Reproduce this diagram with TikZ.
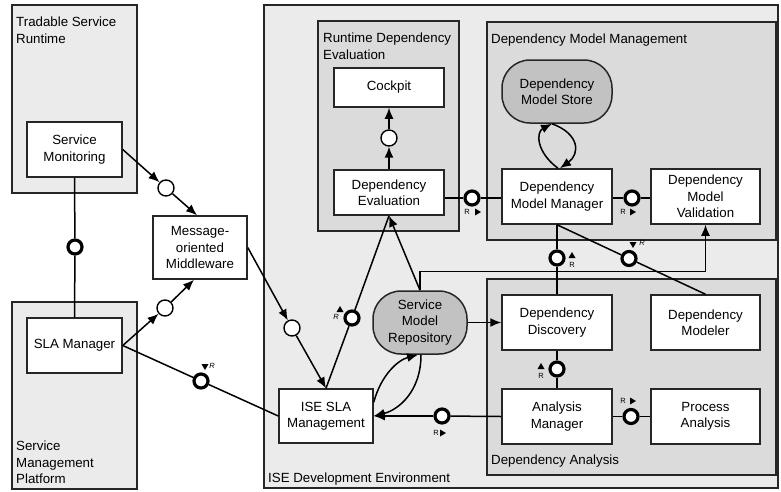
\documentclass[tikz,border=0pt]{standalone}
\usepackage{fontspec}
\setmainfont{Liberation Sans}
\usetikzlibrary{arrows.meta,positioning}
\definecolor{outerfill}{gray}{0.92}
\definecolor{innerfill}{gray}{0.86}
\definecolor{storefill}{gray}{0.76}
\definecolor{edge}{gray}{0.15}
\tikzset{
    group/.style={draw=edge, line width=1.5pt},
    grouplabel/.style={inner sep=0pt, align=left, font=\fontsize{13.3}{16.5}\selectfont},
    comp/.style={draw=edge, fill=white, line width=1.5pt, align=center,
        minimum width=110pt, minimum height=55pt, inner sep=1pt,
        font=\fontsize{13.3}{16.5}\selectfont},
    store/.style={comp, fill=storefill, rounded corners=28pt, minimum height=63pt},
    lolli/.style={circle, draw=black, fill=white, line width=3.2pt, minimum size=14pt, inner sep=0pt},
    port/.style={circle, draw=black, fill=white, line width=1.4pt, minimum size=16pt, inner sep=0pt},
    conn/.style={line width=1.5pt},
    arr/.style={conn, -{Latex[length=11pt,width=9pt]}},
    rtag/.style={inner sep=0pt, font=\fontsize{7.5}{8}\selectfont}
}

\begin{document}
\begin{tikzpicture}[x=1pt, y=-1pt]
    \useasboundingbox (0,0) rectangle (781,491);

        % Draw groups.
        \draw[group, fill=outerfill] (12,5) rectangle (137,193);
        \draw[group, fill=outerfill] (12,302) rectangle (137,489);
        \draw[group, fill=outerfill] (264,5) rectangle (778,488);
        \draw[group, fill=innerfill] (318,21) rectangle (459,231);
        \draw[group, fill=innerfill] (487,22) rectangle (776,240);
        \draw[group, fill=innerfill] (487,279) rectangle (776,475);

        \node[grouplabel, anchor=north west] (tsr) at (16,17) {Tradable Service\\Runtime};
        \node[grouplabel, anchor=south west] (smp) at (16,484) {Service\\Management\\Platform};
        \node[grouplabel, anchor=west] (ide) at (268,479) {ISE Development Environment};
        \node[grouplabel, anchor=north west] (rde) at (323,33) {Runtime Dependency\\Evaluation};
        \node[grouplabel, anchor=west] (dmm) at (491,40) {Dependency Model Management};
        \node[grouplabel, anchor=west] (dan) at (491,461) {Dependency Analysis};

        % Draw components.
        \node[comp, minimum width=95pt] (mon) at (74.5,149.5) {Service\\Monitoring};
        \node[comp, minimum width=95pt] (sla) at (74.5,345.5) {SLA Manager};
        \node[comp, minimum width=94pt, minimum height=63pt] (mom) at (200,247.5) {Message-\\oriented\\Middleware};
        \node[comp, minimum height=39pt] (cockpit) at (389,87.5) {Cockpit};
        \node[comp, minimum height=45pt] (eval) at (389,192.5) {Dependency\\Evaluation};
        \node[store] (dstore) at (557,91.5) {Dependency\\Model Store};
        \node[comp] (manager) at (557,196.5) {Dependency\\Model Manager};
        \node[comp, minimum width=109pt] (valid) at (705.5,196.5) {Dependency\\Model\\Validation};
        \node[comp] (disc) at (557,322.5) {Dependency\\Discovery};
        \node[comp, minimum width=109pt] (modeler) at (705.5,322.5) {Dependency\\Modeler};
        \node[comp] (amgr) at (557,416.5) {Analysis\\Manager};
        \node[comp, minimum width=109pt] (proc) at (705.5,416.5) {Process\\Analysis};
        \node[comp, minimum width=94pt, minimum height=54pt] (isesla) at (326,416) {ISE SLA\\Management};
        \node[store, minimum width=94pt] (repo) at (420,322.5) {Service\\Model\\Repository};

        % Draw interfaces.
        \node[port] (c1) at (166,188) {};
        \node[port] (c2) at (165,308) {};
        \node[port] (c3) at (292,328) {};
        \node[port] (c4) at (389,138) {};
        \node[lolli] (l1) at (75,247) {};
        \node[lolli] (l2) at (201,381) {};
        \node[lolli] (l3) at (352,318) {};
        \node[lolli] (l4) at (442,416) {};
        \node[lolli] (l5) at (472,198) {};
        \node[lolli] (l6) at (632,198) {};
        \node[lolli] (l7) at (557,258) {};
        \node[lolli] (l8) at (629,258.5) {};
        \node[lolli] (l9) at (557,369) {};
        \node[lolli] (l10) at (631,416.5) {};

        % Draw connectors.
        \draw[arr] (mon.east) -- (c1);
        \draw[arr] (c1) -- ([xshift=-3pt]mom.north);
        \draw[arr] (sla.east) -- (c2);
        \draw[arr] (c2) -- ([xshift=-6pt]mom.south);
        \draw[conn] (mon.south) -- (l1) -- (sla.north);
        \draw[conn] (sla.east) -- (l2) -- (isesla.west);
        \draw[arr] (mom.east) -- (c3);
        \draw[arr] (c3) -- (isesla.north);
        \draw[conn] (isesla.north) -- (l3) -- (eval.south);
        \draw[arr] (repo.north) -- (eval.south);
        \draw[arr] (repo.north) -- ++(0,-19) -| (valid.south);
        \draw[arr] (repo.east) -- (disc.west);
        \draw[arr] ([yshift=-14pt]isesla.north east) .. controls (381,375) and (398,360) .. ([xshift=-2pt]repo.south);
        \draw[arr] ([xshift=1pt]repo.south) .. controls (421,392) and (398,410) .. (isesla.east);
        \draw[conn] (amgr.west) -- (l4);
        \draw[arr] (l4) -- (isesla.east);
        \draw[conn] (l5 -| eval.east) -- (l5) -- (l5 -| manager.west);
        \draw[conn] (l6 -| manager.east) -- (l6) -- (l6 -| valid.west);
        \draw[arr] ([xshift=1pt]manager.north) .. controls (536,152) and (536,132) .. ([xshift=-5pt]dstore.south);
        \draw[arr] ([xshift=-5pt]dstore.south) .. controls (580,134) and (580,154) .. ([xshift=3pt]manager.north);
        \draw[conn] (manager.south) -- (l7) -- (disc.north);
        \draw[conn] (manager.south) -- (l8) -- (modeler.north);
        \draw[conn] (disc.south) -- (l9) -- (amgr.north);
        \draw[conn] (amgr.east) -- (l10) -- (proc.west);
        \draw[arr] (eval.north) -- (c4);
        \draw[arr] (c4) -- (cockpit.south);

        % Draw role markers.
        \foreach \x/\y in {478/212, 633/212, 633/401, 443/433}
            \fill (\x-3,\y-3.5) -- (\x+3,\y) -- (\x-3,\y+3.5) -- cycle;
        \foreach \x/\y in {572/255, 541/366, 340/309}
            \fill (\x-3.5,\y+3) -- (\x,\y-3) -- (\x+3.5,\y+3) -- cycle;
        \foreach \x/\y in {633/245, 205/367}
            \fill (\x-3.5,\y-3) -- (\x,\y+3) -- (\x+3.5,\y-3) -- cycle;
        \foreach \x/\y [count=\i] in {467/212, 623/212, 623/401, 436/433, 572/265, 541/376}
            \node[rtag] (ru\i) at (\x,\y) {R};
        \foreach \x/\y [count=\i] in {642/243, 212/366, 336/317}
            \node[rtag] (ri\i) at (\x,\y) {\textit{R}};
    \end{tikzpicture}
\end{document}
